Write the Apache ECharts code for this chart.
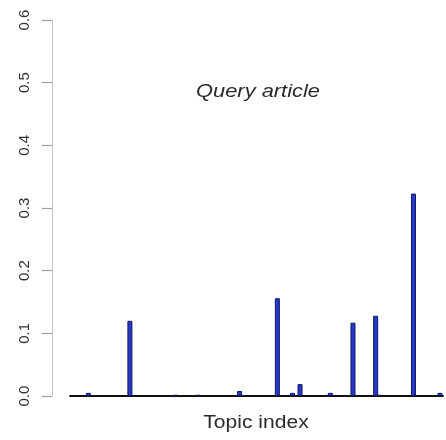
<!DOCTYPE html>
<html>
<head>
<meta charset="utf-8">
<script src="https://cdn.jsdelivr.net/npm/echarts@6/dist/echarts.min.js"></script>
<style>
  html, body { margin: 0; padding: 0; background: #fff; }
  #chart { width: 446px; height: 440px; }
</style>
</head>
<body>
<div id="chart"></div>
<script>
// Topic proportions for the query article (100 topics, mostly zero)
const topicCount = 100;
const nonZeroTopics = [6, 17, 29, 35, 46, 56, 60, 62, 70, 76, 82, 83, 92, 99];
const nonZeroWeights = [0.005, 0.120, 0.002, 0.002, 0.008, 0.156, 0.005, 0.019, 0.005, 0.117, 0.128, 0.002, 0.323, 0.005];
const yTicks = [0, 0.1, 0.2, 0.3, 0.4, 0.5, 0.6];

const topics = Array.from({ length: topicCount }, (_, i) => i + 1);
const weightByTopic = {};
nonZeroTopics.forEach((t, i) => { weightByTopic[t] = nonZeroWeights[i]; });

const barData = nonZeroTopics.map((t) => [t, weightByTopic[t]]);
const baseData = topics.map((t) => [t, 0]);

const chart = echarts.init(document.getElementById('chart'), null, { renderer: 'canvas' });

chart.setOption({
  animation: false,
  backgroundColor: '#ffffff',
  grid: { left: 52, right: 0, top: 20, bottom: 44, containLabel: false },
  xAxis: {
    type: 'value',
    min: -3.6,
    max: 100.6,
    show: false
  },
  yAxis: {
    type: 'value',
    min: yTicks[0],
    max: yTicks[yTicks.length - 1],
    interval: 0.1,
    axisLine: { show: true, onZero: false, lineStyle: { color: '#c4c4c4', width: 1 } },
    axisTick: { show: true, inside: false, length: 10, lineStyle: { color: '#a0a0a0', width: 1.2 } },
    splitLine: { show: false },
    axisLabel: {
      rotate: 90,
      margin: 20,
      color: '#333333',
      fontFamily: 'Liberation Sans, Arial, sans-serif',
      fontSize: 15,
      formatter: (v) => v.toFixed(1)
    }
  },
  series: [
    {
      type: 'line',
      data: baseData,
      symbol: 'none',
      lineStyle: { color: '#111111', width: 2 },
      z: 1
    },
    {
      type: 'bar',
      data: barData,
      barWidth: 5,
      itemStyle: { color: '#2638c4', borderColor: '#0e176a', borderWidth: 1 },
      z: 2
    }
  ],
  graphic: [
    {
      type: 'text',
      x: 258,
      y: 92,
      scaleX: 1.15,
      style: {
        text: 'Query article',
        fontFamily: 'Liberation Sans, Arial, sans-serif',
        fontStyle: 'italic',
        fontSize: 19,
        fill: '#2a2a2a',
        textAlign: 'center',
        textVerticalAlign: 'middle'
      }
    },
    {
      type: 'text',
      x: 256,
      y: 423,
      scaleX: 1.17,
      style: {
        text: 'Topic index',
        fontFamily: 'Liberation Sans, Arial, sans-serif',
        fontSize: 18,
        fill: '#2a2a2a',
        textAlign: 'center',
        textVerticalAlign: 'middle'
      }
    }
  ]
});
</script>
</body>
</html>
